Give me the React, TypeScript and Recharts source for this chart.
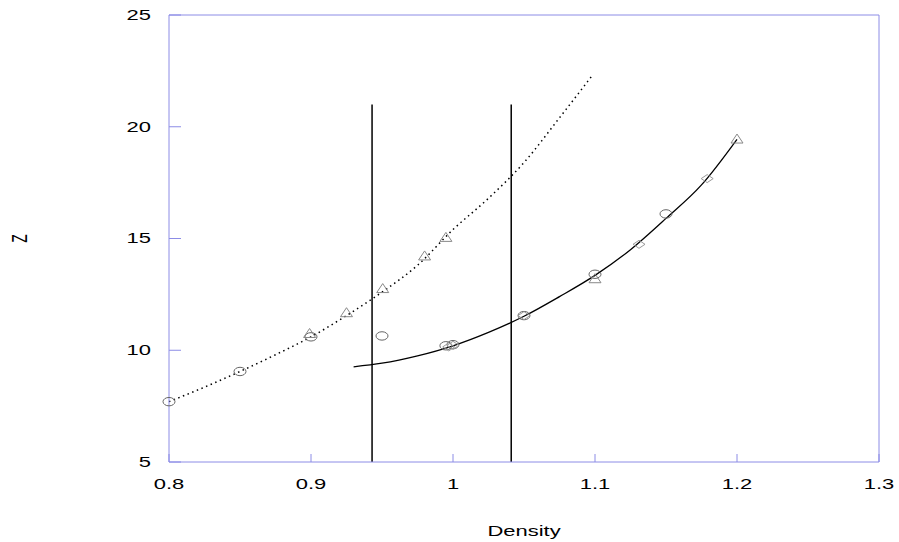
import React from 'react';
import { ComposedChart, Line, Scatter, XAxis, YAxis } from 'recharts';

const xTicks = [0.8, 0.9, 1.0, 1.1, 1.2, 1.3];
const yTicks = [5, 10, 15, 20, 25];

const dottedX = [0.8, 0.825, 0.85, 0.875, 0.9, 0.925, 0.95, 0.975, 1.0, 1.025, 1.05, 1.075, 1.0985];
const dottedZ = [7.7, 8.35, 9.05, 9.8, 10.6, 11.55, 12.6, 13.8, 15.4, 16.8, 18.4, 20.4, 22.33];

const solidX = [0.93, 0.95, 0.975, 1.0, 1.025, 1.05, 1.075, 1.1, 1.125, 1.15, 1.175, 1.2];
const solidZ = [9.26, 9.42, 9.75, 10.2, 10.8, 11.52, 12.4, 13.35, 14.5, 15.9, 17.4, 19.44];

const vLineX = [0.943, 1.041];
const vLineZ = [5, 21.0];

const circleX = [0.8, 0.85, 0.9, 0.95, 0.995, 1.0, 1.05, 1.1, 1.15];
const circleZ = [7.7, 9.05, 10.6, 10.64, 10.2, 10.25, 11.55, 13.4, 16.1];

const triangleX = [0.899, 0.925, 0.9505, 0.98, 0.995, 1.1, 1.2];
const triangleZ = [10.75, 11.68, 12.76, 14.22, 15.05, 13.2, 19.45];

const diamondX = [0.997, 1.0, 1.05, 1.131, 1.179];
const diamondZ = [10.15, 10.22, 11.55, 14.74, 17.68];

const zip = (xs: number[], ys: number[]) => xs.map((x, i) => ({ x, y: ys[i] }));

const dottedData = zip(dottedX, dottedZ);
const solidData = zip(solidX, solidZ);
const vLine1 = vLineZ.map((y) => ({ x: vLineX[0], y }));
const vLine2 = vLineZ.map((y) => ({ x: vLineX[1], y }));
const circles = zip(circleX, circleZ);
const triangles = zip(triangleX, triangleZ);
const diamonds = zip(diamondX, diamondZ);

const AXIS = '#8c8ce6';
const FONT = '"Liberation Sans", Arial, Helvetica, sans-serif';
const BOTTOM_MARGIN = 17;
const LEFT_MARGIN = 18;
const SX = 1.57;

const fmt = (v: number) => String(Math.round(v * 10) / 10);

const BottomTick = (props: any) => {
  const { x, y, payload } = props;
  const ay = y - BOTTOM_MARGIN;
  return (
    <g>
      <line x1={x} x2={x} y1={ay} y2={ay - 8} stroke={AXIS} strokeWidth={1} />
      <text
        x={0}
        y={0}
        transform={`translate(${x},${y}) scale(${SX},1)`}
        dy="0.71em"
        textAnchor="middle"
        fontSize={14}
        fontFamily={FONT}
        fill="#000"
      >
        {fmt(payload.value)}
      </text>
    </g>
  );
};

const TopTick = (props: any) => {
  const { x, y } = props;
  return <line x1={x} x2={x} y1={y} y2={y + 8} stroke={AXIS} strokeWidth={1} />;
};

const LeftTick = (props: any) => {
  const { x, y, payload } = props;
  const ax = x + LEFT_MARGIN;
  return (
    <g>
      <line x1={ax} x2={ax + 12} y1={y} y2={y} stroke={AXIS} strokeWidth={1} />
      <text
        x={0}
        y={0}
        transform={`translate(${x},${y}) scale(${SX},1)`}
        dy="0.355em"
        textAnchor="end"
        fontSize={14}
        fontFamily={FONT}
        fill="#000"
      >
        {fmt(payload.value)}
      </text>
    </g>
  );
};

const RightTick = (props: any) => {
  const { x, y } = props;
  return <line x1={x} x2={x - 12} y1={y} y2={y} stroke={AXIS} strokeWidth={1} />;
};

const CircleMark = (props: any) => {
  const { cx, cy } = props;
  return <ellipse cx={cx} cy={cy} rx={6} ry={4.2} fill="none" stroke="#666" strokeWidth={1} />;
};

const TriangleMark = (props: any) => {
  const { cx, cy } = props;
  const pts = `${cx - 6},${cy + 4} ${cx + 6},${cy + 4} ${cx},${cy - 5}`;
  return <polygon points={pts} fill="none" stroke="#888" strokeWidth={1} />;
};

const DiamondMark = (props: any) => {
  const { cx, cy } = props;
  const pts = `${cx - 6},${cy} ${cx},${cy - 4} ${cx + 6},${cy} ${cx},${cy + 4}`;
  return <polygon points={pts} fill="none" stroke="#999" strokeWidth={1} />;
};

const XLabel = (props: any) => {
  const vb = props.viewBox || { x: 0, y: 0, width: 0, height: 0 };
  const cx = vb.x + vb.width / 2;
  const cy = vb.y + 74;
  return (
    <text
      x={0}
      y={0}
      transform={`translate(${cx},${cy}) scale(${SX},1)`}
      textAnchor="middle"
      fontSize={14}
      fontFamily={FONT}
      fill="#000"
    >
      Density
    </text>
  );
};

const YLabel = (props: any) => {
  const vb = props.viewBox || { x: 0, y: 0, width: 0, height: 0 };
  const cx = vb.x + 10.5;
  const cy = vb.y + vb.height / 2;
  return (
    <text
      x={0}
      y={0}
      transform={`translate(${cx},${cy}) scale(${SX},1) rotate(-90)`}
      textAnchor="middle"
      dominantBaseline="central"
      fontSize={14}
      fontFamily={FONT}
      fill="#000"
    >
      Z
    </text>
  );
};

export default function App() {
  return (
    <div style={{ width: 899, height: 542 }}>
      <style>{'html,body{margin:0;padding:0;overflow:hidden;background:#fff;}'}</style>
      <ComposedChart width={899} height={542} margin={{ top: 14, right: 19, bottom: 0, left: 9 }}>
        <XAxis
          xAxisId="bottom"
          dataKey="x"
          type="number"
          domain={[0.8, 1.3]}
          ticks={xTicks}
          height={80}
          tickSize={0}
          tickMargin={BOTTOM_MARGIN}
          tickLine={false}
          axisLine={{ stroke: AXIS }}
          tick={<BottomTick />}
          interval={0}
          label={<XLabel />}
        />
        <XAxis
          xAxisId="top"
          orientation="top"
          dataKey="x"
          type="number"
          domain={[0.8, 1.3]}
          ticks={xTicks}
          height={1}
          tickSize={0}
          tickMargin={0}
          tickLine={false}
          axisLine={{ stroke: AXIS }}
          tick={<TopTick />}
          interval={0}
        />
        <YAxis
          yAxisId="left"
          dataKey="y"
          type="number"
          domain={[5, 25]}
          ticks={yTicks}
          width={160}
          tickSize={0}
          tickMargin={LEFT_MARGIN}
          tickLine={false}
          axisLine={{ stroke: AXIS }}
          tick={<LeftTick />}
          interval={0}
          label={<YLabel />}
        />
        <YAxis
          yAxisId="right"
          orientation="right"
          dataKey="y"
          type="number"
          domain={[5, 25]}
          ticks={yTicks}
          width={1}
          tickSize={0}
          tickMargin={0}
          tickLine={false}
          axisLine={{ stroke: AXIS }}
          tick={<RightTick />}
          interval={0}
        />
        <Line
          xAxisId="bottom"
          yAxisId="left"
          data={dottedData}
          dataKey="y"
          type="monotone"
          stroke="#000"
          strokeWidth={1.5}
          strokeDasharray="1.5 3.5"
          dot={false}
          isAnimationActive={false}
        />
        <Line
          xAxisId="bottom"
          yAxisId="left"
          data={solidData}
          dataKey="y"
          type="monotone"
          stroke="#000"
          strokeWidth={1.3}
          dot={false}
          isAnimationActive={false}
        />
        <Line
          xAxisId="bottom"
          yAxisId="left"
          data={vLine1}
          dataKey="y"
          type="linear"
          stroke="#000"
          strokeWidth={1.5}
          dot={false}
          isAnimationActive={false}
        />
        <Line
          xAxisId="bottom"
          yAxisId="left"
          data={vLine2}
          dataKey="y"
          type="linear"
          stroke="#000"
          strokeWidth={1.5}
          dot={false}
          isAnimationActive={false}
        />
        <Scatter xAxisId="bottom" yAxisId="left" data={circles} dataKey="y" shape={<CircleMark />} isAnimationActive={false} />
        <Scatter xAxisId="bottom" yAxisId="left" data={triangles} dataKey="y" shape={<TriangleMark />} isAnimationActive={false} />
        <Scatter xAxisId="bottom" yAxisId="left" data={diamonds} dataKey="y" shape={<DiamondMark />} isAnimationActive={false} />
      </ComposedChart>
    </div>
  );
}
